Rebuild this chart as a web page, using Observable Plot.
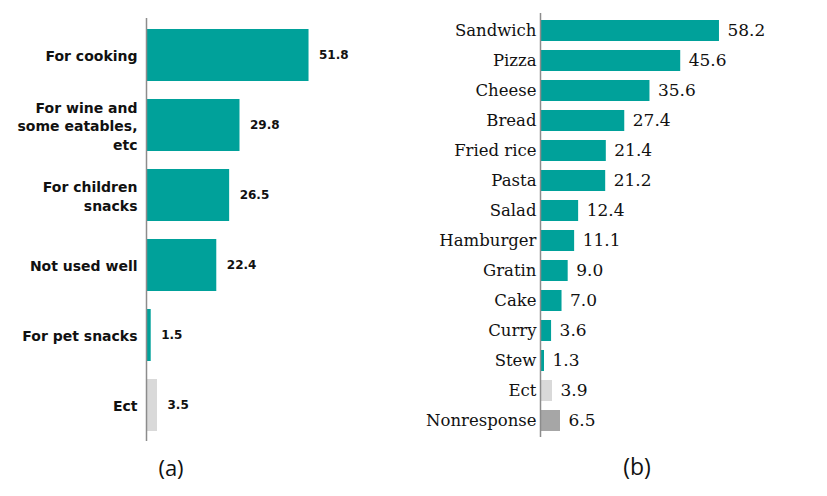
<!DOCTYPE html>
<html>
<head>
<meta charset="utf-8">
<script src="https://cdn.jsdelivr.net/npm/d3@7"></script>
<script src="https://cdn.jsdelivr.net/npm/@observablehq/plot@0.6"></script>
<style>
  html, body { margin: 0; padding: 0; background: #fff; }
  #wrap { position: relative; width: 827px; height: 496px; overflow: hidden; }
  #pa { position: absolute; left: 0; top: 0; }
  #pb { position: absolute; left: 410px; top: 0; }
  .cap { position: absolute; font-family: "Open Sans", "Noto Sans", sans-serif; color: #111; transform: translateX(-50%); line-height: 1; }
</style>
</head>
<body>
<div id="wrap">
  <div id="pa"></div>
  <div id="pb"></div>
  <div class="cap" style="left:171px; top:456px; font-size:22px">(a)</div>
  <div class="cap" style="left:637px; top:455px; font-size:23px">(b)</div>
</div>
<script>
// Panel (a)
const usesA = ["For cooking", "For wine and\nsome eatables,\netc", "For children\nsnacks", "Not used well", "For pet snacks", "Ect"];
const valuesA = [51.8, 29.8, 26.5, 22.4, 1.5, 3.5];
const colorsA = ["#00A19A", "#00A19A", "#00A19A", "#00A19A", "#00A19A", "#D9D9D9"];

// Panel (b)
const foodsB = ["Sandwich", "Pizza", "Cheese", "Bread", "Fried rice", "Pasta", "Salad", "Hamburger", "Gratin", "Cake", "Curry", "Stew", "Ect", "Nonresponse"];
const valuesB = [58.2, 45.6, 35.6, 27.4, 21.4, 21.2, 12.4, 11.1, 9.0, 7.0, 3.6, 1.3, 3.9, 6.5];
const colorsB = ["#00A19A","#00A19A","#00A19A","#00A19A","#00A19A","#00A19A","#00A19A","#00A19A","#00A19A","#00A19A","#00A19A","#00A19A","#D9D9D9","#A6A6A6"];

const dataA = usesA.map((u, i) => ({cat: u, v: valuesA[i], c: colorsA[i]}));
const dataB = foodsB.map((f, i) => ({cat: f, v: valuesB[i], c: colorsB[i]}));

const chartA = Plot.plot({
  width: 410, height: 450,
  marginLeft: 146, marginRight: 13, marginTop: 18, marginBottom: 9,
  style: {fontFamily: "'DejaVu Sans', Verdana, sans-serif", fontSize: "14px", color: "#111"},
  x: {domain: [0, 80], axis: null},
  y: {domain: usesA, paddingInner: 0.264, paddingOuter: 0.13, axis: null},
  marks: [
    Plot.barX(dataA, {x: "v", y: "cat", fill: "c"}),
    Plot.ruleX([0], {stroke: "#8c8c8c", strokeWidth: 1.5}),
    Plot.axisY({label: null, tickSize: 0, tickPadding: 9, fontWeight: "bold", fontSize: 14, lineHeight: 1.32, fill: "#111"}),
    Plot.text(dataA, {x: "v", y: "cat", text: d => d.v.toFixed(1), textAnchor: "start", dx: 10, fontWeight: "bold", fontSize: 12, fill: "#111"})
  ]
});
document.getElementById("pa").appendChild(chartA);

const chartB = Plot.plot({
  width: 417, height: 450,
  marginLeft: 130, marginRight: 41, marginTop: 13, marginBottom: 13,
  style: {fontFamily: "'DejaVu Serif', serif", fontSize: "16px", color: "#111"},
  x: {domain: [0, 80], axis: null},
  y: {domain: foodsB, paddingInner: 0.307, paddingOuter: 0.13, axis: null},
  marks: [
    Plot.barX(dataB, {x: "v", y: "cat", fill: "c"}),
    Plot.ruleX([0], {stroke: "#8c8c8c", strokeWidth: 1.5}),
    Plot.axisY({label: null, tickSize: 0, tickPadding: 4, fontSize: 16.5, fill: "#111"}),
    Plot.text(dataB, {x: "v", y: "cat", text: d => d.v.toFixed(1), textAnchor: "start", dx: 8, fontSize: 17, fill: "#111"})
  ]
});
document.getElementById("pb").appendChild(chartB);
</script>
</body>
</html>
